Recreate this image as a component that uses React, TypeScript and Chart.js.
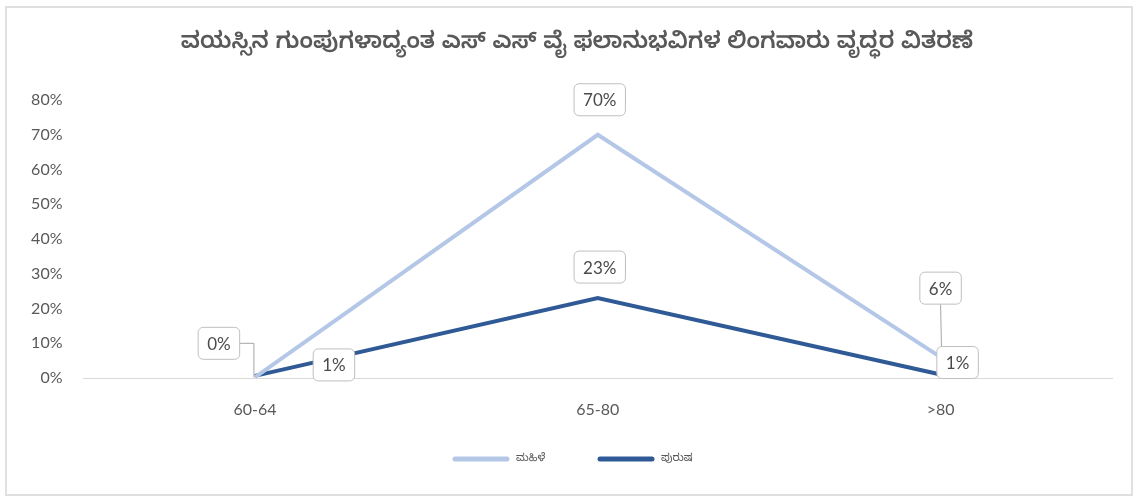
import React, { useEffect, useRef } from "react";
import { Chart, registerables } from "chart.js";

Chart.register(...registerables);

const TITLE = "ವಯಸ್ಸಿನ ಗುಂಪುಗಳಾದ್ಯಂತ ಎಸ್ ಎಸ್ ವೈ ಫಲಾನುಭವಿಗಳ ಲಿಂಗವಾರು ವೃದ್ಧರ ವಿತರಣೆ";
const categories = ["60-64", "65-80", ">80"];
const seriesNames = ["ಮಹಿಳೆ", "ಪುರುಷ"];
const womenValues = [0.002, 0.70, 0.06];
const menValues = [0.006, 0.23, 0.01];
const yTicks = [0, 0.1, 0.2, 0.3, 0.4, 0.5, 0.6, 0.7, 0.8];

const LIGHT = "#b4c7e7";
const DARK = "#2f5a96";
const TEXT = "#595959";
const FONT = "Lato, 'Open Sans', 'Noto Sans', sans-serif";

// label box offsets from each point (px), per dataset
const labelOffsets = [
  [{ dx: -36, dy: -34, leader: "elbow" }, { dx: 2, dy: -35, leader: "" }, { dx: 0, dy: -69, leader: "down" }],
  [{ dx: 79, dy: -11, leader: "" }, { dx: 2, dy: -31, leader: "" }, { dx: 17, dy: -12, leader: "" }],
];

const pct = (v: number) => Math.round(v * 100) + "%";

const decorPlugin = {
  id: "decor",
  afterDatasetsDraw(chart: any) {
    const ctx = chart.ctx;
    ctx.save();
    ctx.font = `17px ${FONT}`;
    const boxes: any[] = [];
    chart.data.datasets.forEach((ds: any, di: number) => {
      const meta = chart.getDatasetMeta(di);
      meta.data.forEach((pt: any, i: number) => {
        const off = labelOffsets[di][i];
        const text = pct(ds.data[i]);
        const w = ctx.measureText(text).width + 18;
        const h = 32;
        const cx = pt.x + off.dx;
        const cy = pt.y + off.dy;
        boxes.push({ cx, cy, w, h, text, off, px: pt.x, py: pt.y });
      });
    });
    // leaders
    ctx.strokeStyle = "#a6a6a6";
    ctx.lineWidth = 1;
    boxes.forEach((b) => {
      if (b.off.leader === "elbow") {
        ctx.beginPath();
        ctx.moveTo(b.cx + b.w / 2, b.cy);
        ctx.lineTo(b.px - 1, b.cy);
        ctx.lineTo(b.px - 1, b.py);
        ctx.stroke();
      } else if (b.off.leader === "down") {
        ctx.beginPath();
        ctx.moveTo(b.cx, b.cy + b.h / 2);
        ctx.lineTo(b.px + 1, b.py - 4);
        ctx.stroke();
      }
    });
    // boxes
    boxes.forEach((b) => {
      const x = b.cx - b.w / 2;
      const y = b.cy - b.h / 2;
      ctx.beginPath();
      ctx.roundRect(x, y, b.w, b.h, 5);
      ctx.fillStyle = "#ffffff";
      ctx.fill();
      ctx.strokeStyle = "#bfbfbf";
      ctx.lineWidth = 1;
      ctx.stroke();
      ctx.fillStyle = "#4a4a4a";
      ctx.textAlign = "center";
      ctx.textBaseline = "middle";
      ctx.fillText(b.text, b.cx, b.cy + 1);
    });
    // title
    ctx.font = `600 23px 'Noto Sans Kannada', 'Noto Sans', sans-serif`;
    ctx.fillStyle = TEXT;
    ctx.textAlign = "center";
    ctx.textBaseline = "middle";
    ctx.fillText(TITLE, 577, 46);
    // legend
    const legendItems = [
      { x: 455, color: LIGHT, label: seriesNames[0] },
      { x: 600, color: DARK, label: seriesNames[1] },
    ];
    ctx.font = `11px 'Noto Sans Kannada', 'Noto Sans', sans-serif`;
    legendItems.forEach((it) => {
      ctx.strokeStyle = it.color;
      ctx.lineWidth = 5;
      ctx.lineCap = "round";
      ctx.beginPath();
      ctx.moveTo(it.x, 459);
      ctx.lineTo(it.x + 52, 459);
      ctx.stroke();
      ctx.fillStyle = TEXT;
      ctx.textAlign = "left";
      ctx.fillText(it.label, it.x + 61, 460);
    });
    ctx.restore();
  },
};

export default function App() {
  const ref = useRef<HTMLCanvasElement | null>(null);
  useEffect(() => {
    if (!ref.current) return;
    const chart = new Chart(ref.current, {
      type: "line",
      data: {
        labels: categories,
        datasets: [
          { label: seriesNames[0], data: womenValues, borderColor: LIGHT, backgroundColor: LIGHT, borderWidth: 4, pointRadius: 0, tension: 0 },
          { label: seriesNames[1], data: menValues, borderColor: DARK, backgroundColor: DARK, borderWidth: 4, pointRadius: 0, tension: 0 },
        ],
      },
      options: {
        responsive: false,
        animation: false,
        layout: { padding: { left: 0, right: 27, top: 100, bottom: 0 } },
        plugins: { legend: { display: false }, title: { display: false }, tooltip: { enabled: false } },
        scales: {
          x: {
            offset: true,
            grid: { display: false, drawTicks: false },
            border: { display: true, color: "#d9d9d9", width: 1 },
            ticks: { color: TEXT, font: { family: FONT, size: 16 }, padding: 22 },
            afterFit: (s: any) => { s.height = 120; },
          },
          y: {
            min: 0,
            max: 0.8,
            afterBuildTicks: (s: any) => { s.ticks = yTicks.map((v) => ({ value: v })); },
            grid: { display: false, drawTicks: false },
            border: { display: false },
            ticks: { color: TEXT, font: { family: FONT, size: 16 }, padding: 21, callback: (v: any) => pct(Number(v)) },
            afterFit: (s: any) => { s.width = 83.5; },
          },
        },
      },
      plugins: [decorPlugin],
    });
    return () => chart.destroy();
  }, []);
  return (
    <div style={{ position: "fixed", left: 0, top: 0, width: 1139, height: 498, background: "#fff" }}>
      <canvas ref={ref} width={1139} height={498} style={{ position: "absolute", left: 0, top: 0 }} />
      <div style={{ position: "absolute", left: 5, top: 6, width: 1128, height: 490, border: "2px solid #e0e0e0", boxSizing: "border-box", pointerEvents: "none" }} />
    </div>
  );
}
